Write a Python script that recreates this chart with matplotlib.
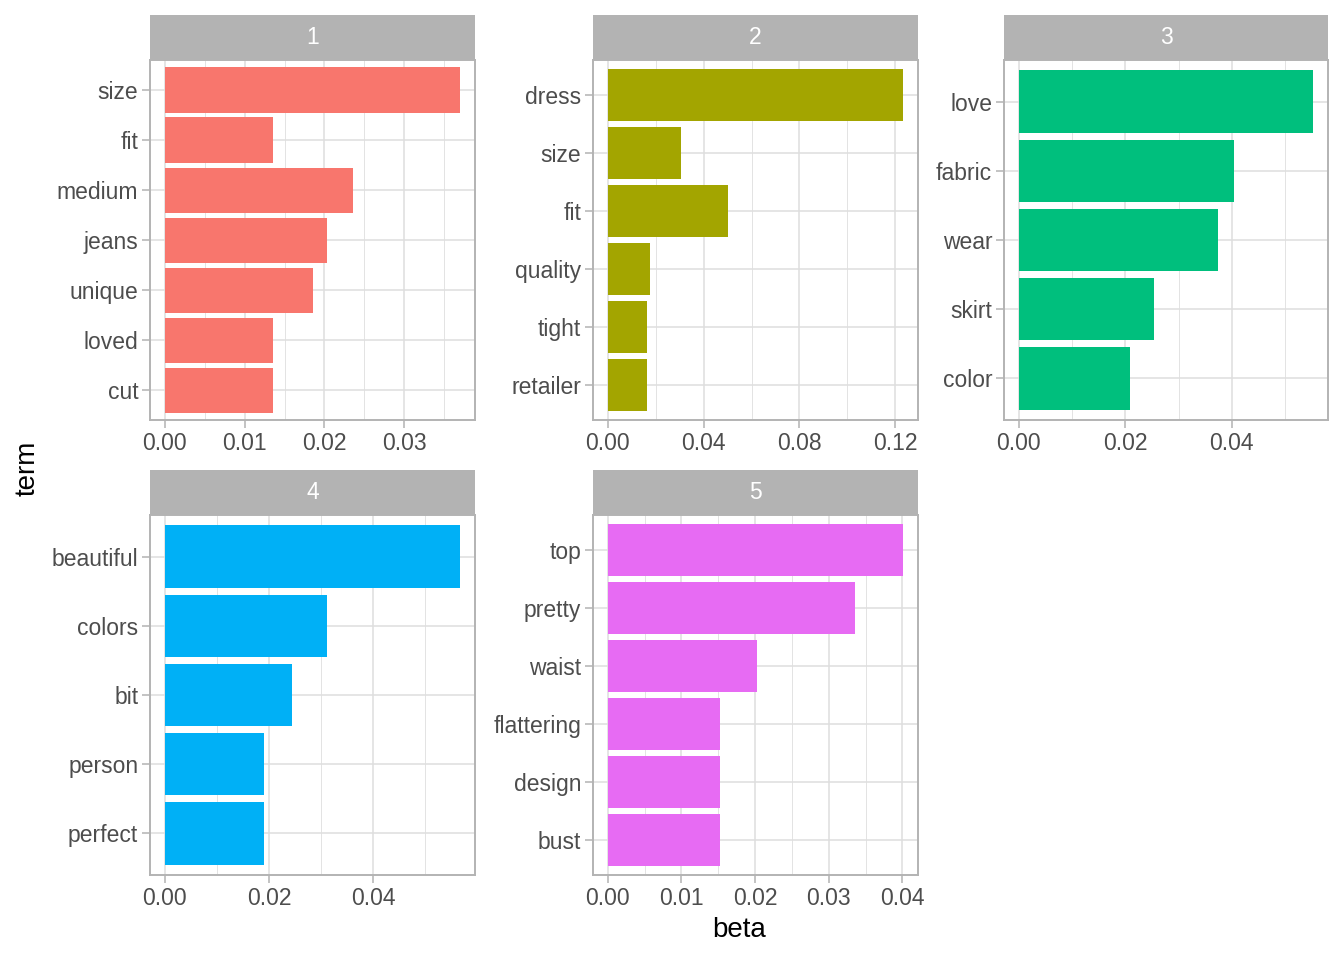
import matplotlib
matplotlib.use("Agg")
import matplotlib.pyplot as plt
import numpy as np

plt.rcParams['font.family'] = ['Liberation Sans', 'DejaVu Sans']

topics = ["1", "2", "3", "4", "5"]
terms = [
    ["size", "fit", "medium", "jeans", "unique", "loved", "cut"],
    ["dress", "size", "fit", "quality", "tight", "retailer"],
    ["love", "fabric", "wear", "skirt", "color"],
    ["beautiful", "colors", "bit", "person", "perfect"],
    ["top", "pretty", "waist", "flattering", "design", "bust"],
]
betas = [
    [0.0370, 0.0135, 0.0236, 0.0203, 0.0186, 0.0135, 0.0135],
    [0.1233, 0.0304, 0.0500, 0.0175, 0.0163, 0.0163],
    [0.0553, 0.0404, 0.0374, 0.0254, 0.0209],
    [0.0567, 0.0312, 0.0245, 0.0191, 0.0191],
    [0.0401, 0.0335, 0.0202, 0.0152, 0.0152, 0.0152],
]
xticks = [
    [0.00, 0.01, 0.02, 0.03],
    [0.00, 0.04, 0.08, 0.12],
    [0.00, 0.02, 0.04],
    [0.00, 0.02, 0.04],
    [0.00, 0.01, 0.02, 0.03, 0.04],
]
colors = ["#F8766D", "#A3A500", "#00BF7D", "#00B0F6", "#E76BF3"]

W, H = 1344, 960
fig = plt.figure(figsize=(W / 100, H / 100), dpi=100)

cols_x = [(150, 475), (593, 918), (1004, 1328)]
rows_y = [(15, 60, 420), (470, 515, 875)]
positions = [(0, 0), (0, 1), (0, 2), (1, 0), (1, 1)]

grid_col = "#DEDEDE"
border_col = "#B3B3B3"
tick_col = "#4D4D4D"
fs = 16.5

for i, (r, c) in enumerate(positions):
    x0, x1 = cols_x[c]
    ys, yp, yb = rows_y[r]
    ax = fig.add_axes([x0 / W, 1 - yb / H, (x1 - x0) / W, (yb - yp) / H])
    sax = fig.add_axes([x0 / W, 1 - yp / H, (x1 - x0) / W, (yp - ys) / H])
    sax.set_facecolor(border_col)
    sax.set_xticks([]); sax.set_yticks([])
    for s in sax.spines.values():
        s.set_visible(False)
    sax.text(0.5, 0.5, topics[i], color="white", fontsize=fs,
             ha="center", va="center", transform=sax.transAxes)

    t = terms[i]
    v = np.array(betas[i])
    n = len(t)
    ypos = np.arange(n)[::-1] + 1
    vmax = v.max()
    xlo, xhi = -0.05 * vmax, 1.05 * vmax
    ax.set_xlim(xlo, xhi)
    ax.set_ylim(0.4, n + 0.6)

    maj = xticks[i]
    step = maj[1] - maj[0]
    minors = [m + step / 2 for m in [maj[0] - step] + maj]
    minors = [m for m in minors if xlo <= m <= xhi]
    for m in minors:
        ax.axvline(m, color=grid_col, lw=0.6, zorder=0)
    for m in maj:
        ax.axvline(m, color=grid_col, lw=1.1, zorder=0)
    for y in ypos:
        ax.axhline(y, color=grid_col, lw=1.1, zorder=0)

    ax.barh(ypos, v, height=0.9, color=colors[i], zorder=2)

    ax.set_yticks(ypos)
    ax.set_yticklabels(t)
    ax.set_xticks(maj)
    ax.set_xticklabels(["%.2f" % m for m in maj])
    ax.tick_params(axis="both", colors=border_col, labelcolor=tick_col,
                   labelsize=fs, length=5.5, width=1.1, pad=3)
    for s in ax.spines.values():
        s.set_color(border_col)
        s.set_linewidth(1.4)
        s.set_zorder(3)

fig.text(28 / W, 1 - 468 / H, "term", rotation=90, ha="center", va="center",
         fontsize=20, color="black")
fig.text(739 / W, 1 - 930 / H, "beta", ha="center", va="center",
         fontsize=20, color="black")

fig.savefig("out.png", dpi=100, facecolor="white")
